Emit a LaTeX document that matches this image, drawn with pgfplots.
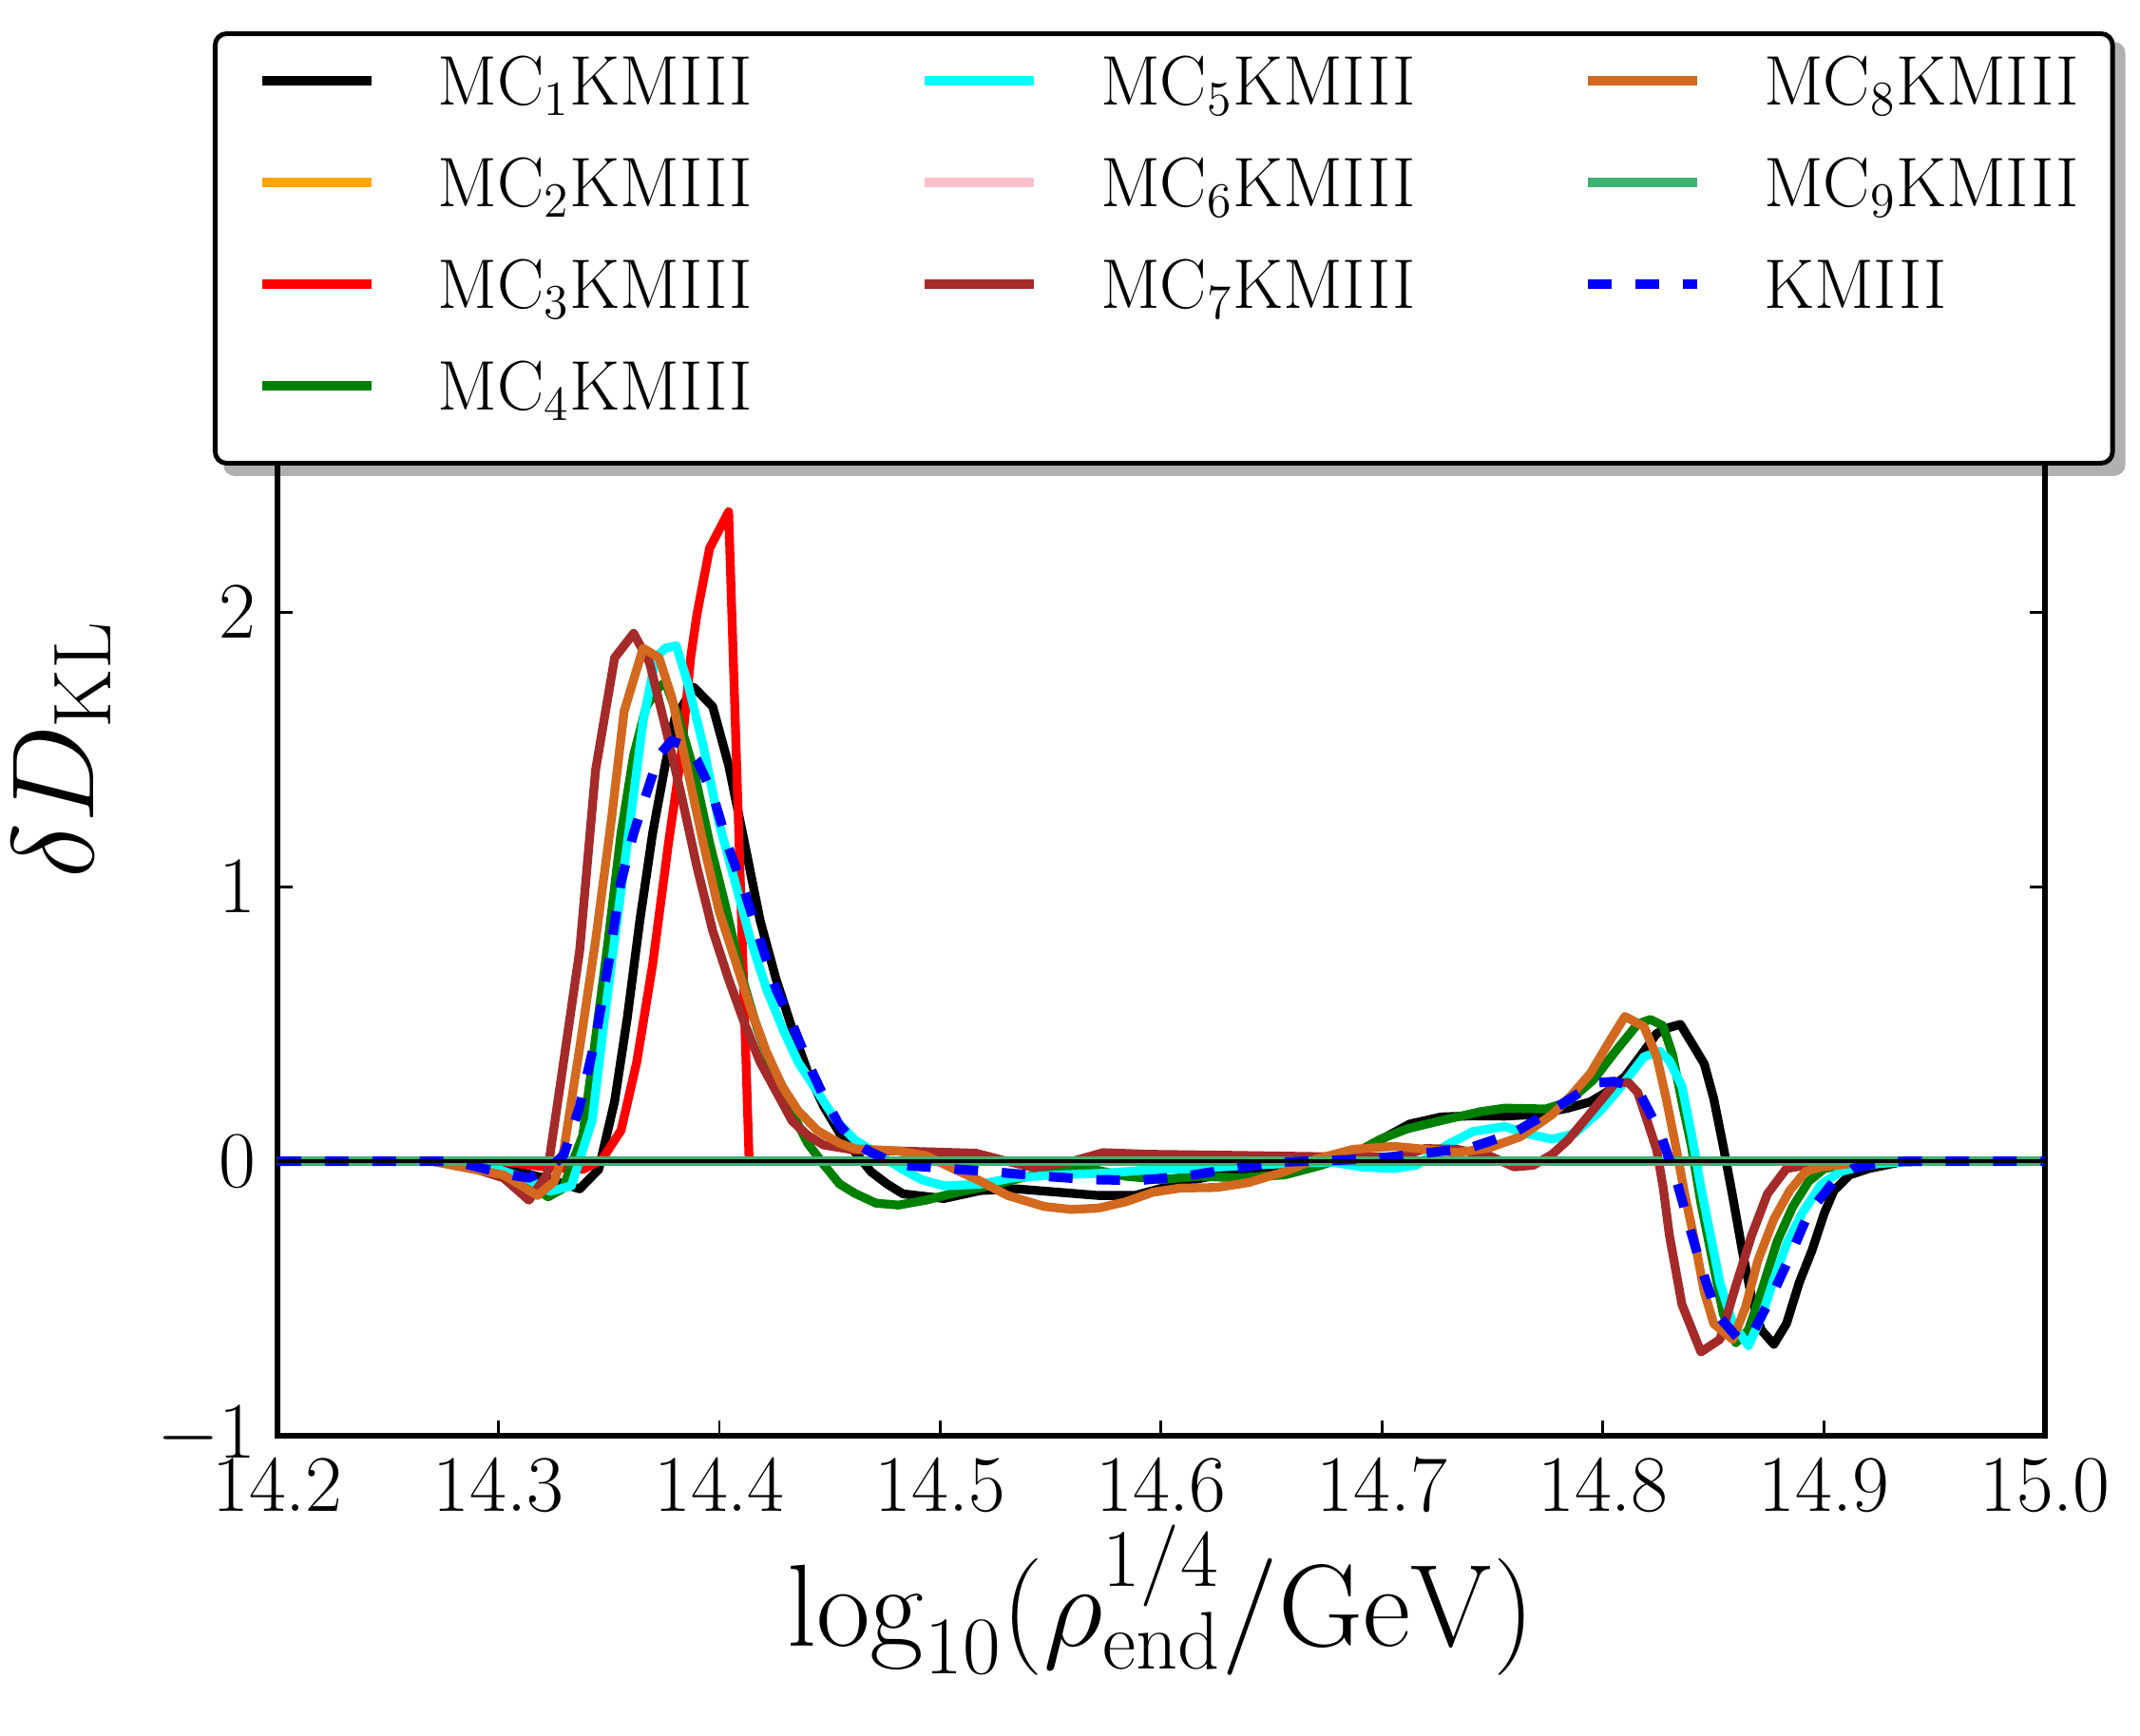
\RequirePackage{fix-cm}
\documentclass[border=0pt]{standalone}
\usepackage{pgfplots}
\pgfplotsset{compat=1.18}
\usetikzlibrary{backgrounds}
\definecolor{mcorange}{HTML}{FFA500}
\definecolor{mcred}{HTML}{FF0000}
\definecolor{mcgreen}{HTML}{008000}
\definecolor{mccyan}{HTML}{00FFFF}
\definecolor{mcpink}{HTML}{FFC0CB}
\definecolor{mcbrown}{HTML}{A52A2A}
\definecolor{mcchoc}{HTML}{D2691E}
\definecolor{mcseagreen}{HTML}{3CB371}
\definecolor{mcblue}{HTML}{0000FF}
\begin{document}
\begin{tikzpicture}
\useasboundingbox (0,0) rectangle (22.52cm,18.26cm);
\begin{axis}[
  at={(2.92cm,3.15cm)}, anchor=south west,
  scale only axis, width=18.6cm, height=14.45cm,
  xmin=14.2, xmax=15.0, ymin=-1, ymax=4,
  xtick={14.2,14.3,14.4,14.5,14.6,14.7,14.8,14.9,15.0},
  xticklabels={14.2,14.3,14.4,14.5,14.6,14.7,14.8,14.9,15.0},
  ytick={-1,0,1,2},
  yticklabels={$-1$,$0$,$1$,$2$},
  tick align=inside,
  major tick length=0.16cm,
  every tick/.style={black, line width=0.85pt},
  axis line style={line width=1.5pt},
  xticklabel style={font=\fontsize{24}{28}\selectfont, anchor=base, yshift=-0.79cm},
  yticklabel style={font=\fontsize{24}{28}\selectfont, anchor=east, inner sep=0pt, xshift=-0.22cm},
  xlabel={$\log_{10}(\rho_{\mathrm{end}}^{1/4}/\mathrm{GeV})$},
  ylabel={$\delta D_{\mathrm{KL}}$},
  xlabel style={font=\fontsize{35}{40}\selectfont, at={(axis description cs:0.5,-0.1536)}, anchor=base},
  ylabel style={font=\fontsize{35}{40}\selectfont, at={(axis description cs:-0.1043,0.5)}, anchor=base},
  every axis plot/.append style={line join=round},
  legend columns=3,
  legend cell align=left,
  legend image code/.code={\draw[#1] (0cm,0.16cm) -- (1.15cm,0.16cm);},
  legend style={at={(axis description cs:-0.03656,1.02284)}, anchor=north west, name=legendbox,
    draw=black, line width=1.4pt, fill=white, rounded corners=0.12cm,
    inner xsep=0.45cm, inner ysep=0.12cm, column sep=0.65cm,
    font=\fontsize{21}{25}\selectfont,
    nodes={inner sep=0pt, text height=0.63cm, text depth=0.44cm}},
]
% MC1 black
\addplot[black, line width=2.65pt, forget plot] coordinates {
(14.2,0) (14.28,0) (14.30,-0.02) (14.32,-0.06) (14.3368,-0.101) (14.3454,-0.030) (14.3526,0.218)
(14.3583,0.520) (14.3640,0.875) (14.3698,1.194) (14.3755,1.442) (14.3798,1.611) (14.3884,1.726)
(14.3970,1.655) (14.4042,1.442) (14.4114,1.159) (14.4185,0.875) (14.4257,0.662) (14.4329,0.484)
(14.4400,0.325) (14.4472,0.200) (14.4544,0.103) (14.4615,0.032) (14.4687,-0.039) (14.4759,-0.083)
(14.4831,-0.119) (14.4894,-0.125) (14.5017,-0.136) (14.5182,-0.107) (14.5346,-0.101) (14.5716,-0.125)
(14.5881,-0.125) (14.6148,-0.067) (14.6416,-0.027) (14.6662,-0.009) (14.6827,0.008) (14.6976,0.070)
(14.7124,0.135) (14.7268,0.161) (14.7411,0.165) (14.7555,0.164) (14.7698,0.170) (14.7841,0.193)
(14.7942,0.216) (14.8013,0.250) (14.8099,0.308) (14.8185,0.400) (14.8243,0.465) (14.8300,0.487)
(14.8350,0.498) (14.8415,0.412) (14.8458,0.354) (14.8501,0.227) (14.8544,0.054) (14.8587,-0.130)
(14.8630,-0.326) (14.8673,-0.500) (14.8716,-0.615) (14.8773,-0.667) (14.8830,-0.592) (14.8888,-0.442)
(14.8945,-0.326) (14.9002,-0.188) (14.9045,-0.107) (14.9117,-0.050) (14.9203,-0.027) (14.9275,-0.015)
(14.9347,-0.003) (14.95,0) (15.0,0)};
% MC2 orange
\addplot[mcorange, line width=2.65pt, forget plot] coordinates {(14.2,0) (15.0,0)};
% MC3 red
\addplot[mcred, line width=2.65pt, forget plot] coordinates {
(14.2,0) (14.30,0) (14.32,-0.02) (14.3382,-0.030) (14.3468,0.005) (14.3555,0.112) (14.3626,0.360)
(14.3698,0.715) (14.3770,1.159) (14.3827,1.478) (14.3870,1.833) (14.3899,1.993) (14.3956,2.232)
(14.4042,2.365) (14.4135,0) (15.0,0)};
% MC4 green
\addplot[mcgreen, line width=2.65pt, forget plot] coordinates {
(14.2,0) (14.28,0) (14.30,-0.03) (14.3150,-0.09) (14.3225,-0.130) (14.3292,-0.100) (14.3330,-0.015)
(14.3382,0.094) (14.3440,0.449) (14.3497,0.804) (14.3555,1.194) (14.3612,1.478) (14.3669,1.655)
(14.3727,1.726) (14.3755,1.744) (14.3813,1.620) (14.3884,1.425) (14.3956,1.159) (14.4028,0.928)
(14.4099,0.680) (14.4171,0.484) (14.4243,0.325) (14.4314,0.200) (14.4400,0.065) (14.4472,-0.012)
(14.4544,-0.083) (14.4615,-0.118) (14.4709,-0.153) (14.4811,-0.160) (14.4935,-0.142) (14.5079,-0.113)
(14.5223,-0.090) (14.5367,-0.061) (14.5531,-0.032) (14.5675,-0.027) (14.5840,-0.055) (14.6004,-0.067)
(14.6169,-0.055) (14.6354,-0.061) (14.6560,-0.050) (14.6724,-0.015) (14.6868,0.025) (14.6992,0.080)
(14.7115,0.118) (14.7279,0.150) (14.7444,0.180) (14.7555,0.193) (14.7741,0.190) (14.7841,0.216)
(14.7956,0.296) (14.8056,0.400) (14.8157,0.500) (14.8214,0.516) (14.8271,0.493) (14.8314,0.389)
(14.8357,0.216) (14.8400,0.054) (14.8443,-0.153) (14.8501,-0.384) (14.8544,-0.557) (14.8601,-0.661)
(14.8658,-0.615) (14.8716,-0.476) (14.8788,-0.292) (14.8859,-0.165) (14.8931,-0.073) (14.9002,-0.027)
(14.9088,-0.015) (14.92,0) (15.0,0)};
% MC5 cyan
\addplot[mccyan, line width=2.65pt, forget plot] coordinates {
(14.2,0) (14.28,0) (14.30,-0.03) (14.3138,-0.067) (14.3234,-0.110) (14.3330,-0.090) (14.3425,0.150)
(14.3483,0.538) (14.3540,0.892) (14.3598,1.247) (14.3655,1.602) (14.3712,1.833) (14.3755,1.868)
(14.3805,1.877) (14.3856,1.744) (14.3927,1.513) (14.3999,1.230) (14.4071,1.017) (14.4142,0.804)
(14.4214,0.626) (14.4286,0.484) (14.4357,0.360) (14.4443,0.254) (14.4529,0.147) (14.4615,0.076)
(14.4687,0.041) (14.4759,0.005) (14.4830,-0.030) (14.4914,-0.067) (14.5017,-0.090) (14.5182,-0.084)
(14.5326,-0.061) (14.5531,-0.050) (14.5737,-0.044) (14.5943,-0.032) (14.6148,-0.027) (14.6354,-0.017)
(14.6560,-0.009) (14.6765,-0.003) (14.6909,-0.021) (14.7053,-0.027) (14.7153,-0.015) (14.7296,0.060)
(14.7411,0.108) (14.7555,0.126) (14.7655,0.100) (14.7770,0.080) (14.7870,0.100) (14.7985,0.181)
(14.8085,0.275) (14.8185,0.380) (14.8257,0.400) (14.8300,0.366) (14.8357,0.273) (14.8400,0.100)
(14.8443,-0.096) (14.8486,-0.269) (14.8529,-0.442) (14.8587,-0.592) (14.8658,-0.672) (14.8716,-0.569)
(14.8773,-0.430) (14.8830,-0.303) (14.8902,-0.188) (14.8988,-0.084) (14.9074,-0.038) (14.9160,-0.021)
(14.9246,-0.009) (14.94,0) (15.0,0)};
% MC6 pink
\addplot[mcpink, line width=2.65pt, forget plot] coordinates {(14.2,0) (15.0,0)};
% MC7 brown
\addplot[mcbrown, line width=2.65pt, forget plot] coordinates {
(14.2,0) (14.27,0) (14.2908,-0.032) (14.3023,-0.061) (14.3138,-0.142) (14.3220,-0.050) (14.3282,0.289)
(14.3368,0.768) (14.3440,1.425) (14.3526,1.833) (14.3612,1.922) (14.3684,1.815) (14.3755,1.584)
(14.3827,1.336) (14.3899,1.070) (14.3970,0.839) (14.4042,0.662) (14.4114,0.502) (14.4185,0.360)
(14.4257,0.254) (14.4329,0.147) (14.4400,0.094) (14.4472,0.059) (14.4615,0.040) (14.4811,0.037)
(14.5161,0.029) (14.5300,0.0) (14.5428,-0.024) (14.5600,0.0) (14.5737,0.031) (14.5943,0.025)
(14.6251,0.022) (14.6662,0.017) (14.7074,0.014) (14.7196,0.046) (14.7339,0.043) (14.7483,0.020)
(14.7598,-0.021) (14.7684,-0.015) (14.7770,0.025) (14.7841,0.077) (14.7913,0.146) (14.7985,0.216)
(14.8056,0.285) (14.8114,0.287) (14.8157,0.250) (14.8200,0.146) (14.8243,0.040) (14.8272,-0.096)
(14.8300,-0.269) (14.8357,-0.522) (14.8443,-0.695) (14.8529,-0.649) (14.8601,-0.453) (14.8673,-0.269)
(14.8744,-0.119) (14.8830,-0.027) (14.8916,-0.015) (14.8988,-0.009) (14.91,0) (15.0,0)};
% MC8 chocolate
\addplot[mcchoc, line width=2.65pt, forget plot] coordinates {
(14.2,0) (14.27,0) (14.3023,-0.050) (14.3177,-0.125) (14.3254,-0.073) (14.3296,0.040) (14.3368,0.413)
(14.3440,0.804) (14.3512,1.247) (14.3569,1.638) (14.3655,1.868) (14.3727,1.833) (14.3784,1.691)
(14.3856,1.425) (14.3927,1.159) (14.3999,0.910) (14.4071,0.733) (14.4142,0.555) (14.4214,0.396)
(14.4286,0.271) (14.4357,0.183) (14.4443,0.112) (14.4544,0.065) (14.4615,0.045) (14.4811,0.037)
(14.4935,0.020) (14.5058,-0.027) (14.5182,-0.073) (14.5305,-0.125) (14.5470,-0.165) (14.5593,-0.176)
(14.5716,-0.171) (14.5840,-0.148) (14.5963,-0.113) (14.6087,-0.098) (14.6251,-0.096) (14.6395,-0.078)
(14.6560,-0.038) (14.6704,0.008) (14.6868,0.043) (14.7053,0.054) (14.7196,0.043) (14.7339,0.031)
(14.7483,0.048) (14.7626,0.089) (14.7770,0.170) (14.7856,0.239) (14.7942,0.319) (14.8028,0.435)
(14.8099,0.527) (14.8185,0.490) (14.8243,0.380) (14.8286,0.227) (14.8329,0.054) (14.8372,-0.130)
(14.8415,-0.292) (14.8458,-0.476) (14.8501,-0.592) (14.8587,-0.649) (14.8644,-0.534) (14.8701,-0.361)
(14.8773,-0.211) (14.8845,-0.107) (14.8916,-0.038) (14.8988,-0.021) (14.9060,-0.015) (14.92,0) (15.0,0)};
% MC9 mediumseagreen
\addplot[mcseagreen, line width=2.7pt, forget plot] coordinates {(14.2,0) (15.0,0)};
% KMIII blue dashed
\addplot[mcblue, line width=2.85pt, dash pattern=on 7.1pt off 7.1pt, forget plot] coordinates {
(14.2,0) (14.28,0) (14.3038,-0.048) (14.3138,-0.061) (14.3225,-0.030) (14.3296,0.023) (14.3368,0.200)
(14.3440,0.449) (14.3497,0.715) (14.3555,1.017) (14.3612,1.194) (14.3669,1.336) (14.3727,1.478)
(14.3784,1.531) (14.3841,1.513) (14.3899,1.460) (14.3970,1.336) (14.4042,1.141) (14.4114,0.981)
(14.4185,0.804) (14.4257,0.626) (14.4329,0.502) (14.4400,0.360) (14.4472,0.236) (14.4544,0.130)
(14.4615,0.067) (14.4687,0.032) (14.4759,0.005) (14.4830,-0.015) (14.5038,-0.027) (14.5254,-0.040)
(14.5470,-0.055) (14.5685,-0.067) (14.5901,-0.070) (14.6107,-0.055) (14.6323,-0.027) (14.6539,-0.003)
(14.6755,0.002) (14.6971,0.010) (14.7182,0.028) (14.7397,0.048) (14.7597,0.103) (14.7784,0.193)
(14.7963,0.285) (14.8050,0.290) (14.8128,0.273) (14.8171,0.239) (14.8257,0.106) (14.8329,-0.061)
(14.8386,-0.223) (14.8443,-0.384) (14.8515,-0.557) (14.8615,-0.649) (14.8673,-0.632) (14.8759,-0.499)
(14.8845,-0.349) (14.8931,-0.188) (14.9045,-0.073) (14.9131,-0.027) (14.9260,-0.003) (14.94,0) (15.0,0)};
% zero line on top
\addplot[black, line width=1.2pt, forget plot] coordinates {(14.2,0) (15.0,0)};
% legend (column-wise order)
\addlegendimage{black, line width=2.65pt}
\addlegendentry{\makebox[4.43cm][l]{MC$_{1}$KMIII}}
\addlegendimage{mccyan, line width=2.65pt}
\addlegendentry{\makebox[4.43cm][l]{MC$_{5}$KMIII}}
\addlegendimage{mcchoc, line width=2.65pt}
\addlegendentry{\makebox[3.22cm][l]{MC$_{8}$KMIII}}
\addlegendimage{mcorange, line width=2.65pt}
\addlegendentry{\makebox[4.43cm][l]{MC$_{2}$KMIII}}
\addlegendimage{mcpink, line width=2.65pt}
\addlegendentry{\makebox[4.43cm][l]{MC$_{6}$KMIII}}
\addlegendimage{mcseagreen, line width=2.65pt}
\addlegendentry{\makebox[3.22cm][l]{MC$_{9}$KMIII}}
\addlegendimage{mcred, line width=2.65pt}
\addlegendentry{\makebox[4.43cm][l]{MC$_{3}$KMIII}}
\addlegendimage{mcbrown, line width=2.65pt}
\addlegendentry{\makebox[4.43cm][l]{MC$_{7}$KMIII}}
\addlegendimage{mcblue, line width=2.85pt, dash pattern=on 7.1pt off 7.1pt}
\addlegendentry{\makebox[3.22cm][l]{KMIII}}
\addlegendimage{mcgreen, line width=2.65pt}
\addlegendentry{\makebox[4.43cm][l]{MC$_{4}$KMIII}}
\addlegendimage{empty legend}
\addlegendentry{\makebox[4.43cm][l]{}}
\addlegendimage{empty legend}
\addlegendentry{\makebox[3.22cm][l]{}}
\end{axis}
\begin{scope}[on background layer]
\fill[black!31, rounded corners=0.12cm] ([xshift=0.11cm,yshift=-0.11cm]legendbox.south west) rectangle ([xshift=0.11cm,yshift=-0.11cm]legendbox.north east);
\end{scope}
\end{tikzpicture}
\end{document}
